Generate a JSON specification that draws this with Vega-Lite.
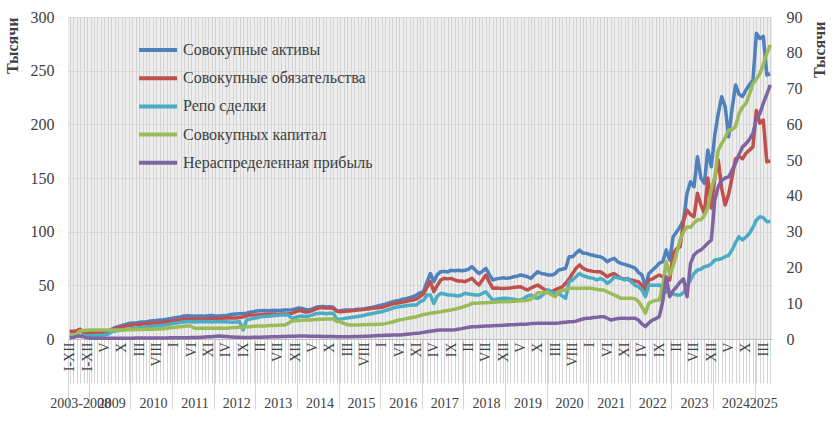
{
  "$schema": "https://vega.github.io/schema/vega-lite/v6.json",
  "width": 704,
  "height": 322,
  "autosize": "none",
  "padding": {"left": 68, "top": 17, "right": 67, "bottom": 96},
  "background": "white",
  "config": {
    "font": "Liberation Serif",
    "view": {"stroke": null, "fill": "#EDEDED"},
    "axis": {"labelFont": "Liberation Serif", "titleFont": "Liberation Serif", "labelColor": "#404040", "titleColor": "#404040"}
  },
  "data": {"values": [
    {"p":"2003","a":7,"l":7,"r":3,"c":0.6,"e":0.3},
    {"p":"2004","a":7,"l":7,"r":3,"c":0.9,"e":0.45},
    {"p":"2005","a":7.5,"l":7.5,"r":3,"c":1.5,"e":0.75},
    {"p":"2006","a":9,"l":9,"r":3.2,"c":2.25,"e":0.84},
    {"p":"2007","a":6,"l":5.6,"r":3.2,"c":2.4,"e":0.6},
    {"p":"2008","a":5.8,"l":5.5,"r":3,"c":2.46,"e":0.36},
    {"p":"2009-01","a":6,"l":5.6,"r":3,"c":2.52,"e":0.24},
    {"p":"2009-02","a":6,"l":5.6,"r":3.2,"c":2.52,"e":0.2},
    {"p":"2009-03","a":6.2,"l":5.8,"r":3.5,"c":2.52,"e":0.18},
    {"p":"2009-04","a":6.3,"l":6,"r":3.6,"c":2.49,"e":0.18},
    {"p":"2009-05","a":6.5,"l":6.2,"r":3.7,"c":2.52,"e":0.18},
    {"p":"2009-06","a":7,"l":6.5,"r":4.5,"c":2.52,"e":0.2},
    {"p":"2009-07","a":9,"l":8,"r":6.5,"c":2.55,"e":0.2},
    {"p":"2009-08","a":10.5,"l":9.5,"r":7.5,"c":2.55,"e":0.21},
    {"p":"2009-09","a":11.5,"l":10.5,"r":8,"c":2.52,"e":0.21},
    {"p":"2009-10","a":12.5,"l":11.2,"r":8.4,"c":2.55,"e":0.22},
    {"p":"2009-11","a":13.2,"l":12,"r":8.8,"c":2.58,"e":0.22},
    {"p":"2009-12","a":14.5,"l":12.5,"r":9.2,"c":2.58,"e":0.24},
    {"p":"2010-01","a":14.8,"l":13,"r":9.6,"c":2.61,"e":0.24},
    {"p":"2010-02","a":15,"l":13.5,"r":10,"c":2.64,"e":0.25},
    {"p":"2010-03","a":15.5,"l":13.8,"r":10.4,"c":2.64,"e":0.25},
    {"p":"2010-04","a":15.8,"l":14,"r":10.8,"c":2.67,"e":0.26},
    {"p":"2010-05","a":16,"l":14.3,"r":11.2,"c":2.7,"e":0.27},
    {"p":"2010-06","a":16.5,"l":14.6,"r":11.5,"c":2.7,"e":0.27},
    {"p":"2010-07","a":17,"l":15,"r":11.8,"c":2.73,"e":0.28},
    {"p":"2010-08","a":17.3,"l":15.2,"r":12,"c":2.76,"e":0.28},
    {"p":"2010-09","a":17.7,"l":15,"r":12.2,"c":2.79,"e":0.3},
    {"p":"2010-10","a":18,"l":15.5,"r":12.8,"c":2.88,"e":0.3},
    {"p":"2010-11","a":18.5,"l":16,"r":13.4,"c":3,"e":0.3},
    {"p":"2010-12","a":19,"l":16.5,"r":14,"c":3.12,"e":0.32},
    {"p":"2011-01","a":19.5,"l":17,"r":14.6,"c":3.24,"e":0.33},
    {"p":"2011-02","a":20,"l":17.5,"r":15,"c":3.36,"e":0.33},
    {"p":"2011-03","a":20.5,"l":18,"r":15.5,"c":3.45,"e":0.35},
    {"p":"2011-04","a":21.5,"l":18.6,"r":15.8,"c":3.54,"e":0.36},
    {"p":"2011-05","a":21.7,"l":18.6,"r":16,"c":3.6,"e":0.38},
    {"p":"2011-06","a":21.5,"l":18.5,"r":16,"c":3.6,"e":0.4},
    {"p":"2011-07","a":21.3,"l":18.4,"r":15.8,"c":3,"e":0.42},
    {"p":"2011-08","a":21.4,"l":18.6,"r":16,"c":3,"e":0.45},
    {"p":"2011-09","a":21.5,"l":18.7,"r":16.2,"c":3.03,"e":0.5},
    {"p":"2011-10","a":21.2,"l":18.5,"r":16,"c":3,"e":0.55},
    {"p":"2011-11","a":21.6,"l":18.8,"r":16,"c":3.06,"e":0.6},
    {"p":"2011-12","a":21.8,"l":19,"r":15.8,"c":3.03,"e":0.66},
    {"p":"2012-01","a":21.5,"l":19,"r":16,"c":3,"e":0.75},
    {"p":"2012-02","a":21.4,"l":19.2,"r":16.2,"c":3.06,"e":0.84},
    {"p":"2012-03","a":21.6,"l":19.4,"r":16,"c":3.03,"e":0.8},
    {"p":"2012-04","a":21.8,"l":19.6,"r":16,"c":3,"e":0.7},
    {"p":"2012-05","a":22.5,"l":19.8,"r":15.8,"c":3.09,"e":0.6},
    {"p":"2012-06","a":23,"l":19.6,"r":15.5,"c":3.18,"e":0.55},
    {"p":"2012-07","a":23.3,"l":19.6,"r":15.8,"c":3.24,"e":0.5},
    {"p":"2012-08","a":23.6,"l":20,"r":16,"c":3.3,"e":0.48},
    {"p":"2012-09","a":23.8,"l":20.5,"r":8.4,"c":3.36,"e":0.45},
    {"p":"2012-10","a":24,"l":21.5,"r":17.7,"c":3.42,"e":0.45},
    {"p":"2012-11","a":25,"l":22.4,"r":18.5,"c":3.45,"e":0.45},
    {"p":"2012-12","a":25.5,"l":22.4,"r":19.2,"c":3.54,"e":0.48},
    {"p":"2013-01","a":26,"l":22.4,"r":19.8,"c":3.6,"e":0.5},
    {"p":"2013-02","a":26.4,"l":22.6,"r":20.8,"c":3.6,"e":0.52},
    {"p":"2013-03","a":26.5,"l":22.8,"r":21,"c":3.66,"e":0.55},
    {"p":"2013-04","a":26.3,"l":23,"r":21.2,"c":3.69,"e":0.57},
    {"p":"2013-05","a":26.6,"l":23.2,"r":21.5,"c":3.75,"e":0.6},
    {"p":"2013-06","a":26.8,"l":23.3,"r":22,"c":3.78,"e":0.62},
    {"p":"2013-07","a":26.5,"l":23,"r":22.2,"c":3.84,"e":0.65},
    {"p":"2013-08","a":26.7,"l":23.2,"r":22.4,"c":3.9,"e":0.68},
    {"p":"2013-09","a":27,"l":23.3,"r":22.4,"c":3.9,"e":0.72},
    {"p":"2013-10","a":27,"l":23.3,"r":22.4,"c":4.35,"e":0.75},
    {"p":"2013-11","a":27.2,"l":24,"r":19.3,"c":5.04,"e":0.78},
    {"p":"2013-12","a":28,"l":25,"r":20,"c":5.1,"e":0.8},
    {"p":"2014-01","a":29,"l":26.5,"r":21,"c":5.16,"e":0.84},
    {"p":"2014-02","a":28.5,"l":26,"r":21.5,"c":5.25,"e":0.84},
    {"p":"2014-03","a":27.5,"l":25,"r":21,"c":5.28,"e":0.82},
    {"p":"2014-04","a":27,"l":25.5,"r":21.5,"c":5.34,"e":0.8},
    {"p":"2014-05","a":28,"l":26.5,"r":22.5,"c":5.4,"e":0.78},
    {"p":"2014-06","a":29.5,"l":28,"r":23.5,"c":5.46,"e":0.76},
    {"p":"2014-07","a":30,"l":29,"r":24,"c":5.52,"e":0.75},
    {"p":"2014-08","a":30.2,"l":29.2,"r":24,"c":5.55,"e":0.72},
    {"p":"2014-09","a":29.8,"l":28.8,"r":23.5,"c":5.58,"e":0.7},
    {"p":"2014-10","a":30,"l":29,"r":24,"c":5.58,"e":0.7},
    {"p":"2014-11","a":29.5,"l":28.5,"r":24,"c":5.58,"e":0.68},
    {"p":"2014-12","a":26,"l":26,"r":18.3,"c":4.95,"e":0.66},
    {"p":"2015-01","a":26.3,"l":25.4,"r":18.5,"c":4.8,"e":0.66},
    {"p":"2015-02","a":26.8,"l":25.6,"r":19,"c":4.35,"e":0.66},
    {"p":"2015-03","a":27,"l":26,"r":19.5,"c":4.05,"e":0.66},
    {"p":"2015-04","a":27,"l":26.2,"r":20,"c":3.9,"e":0.66},
    {"p":"2015-05","a":27.3,"l":26.5,"r":20.5,"c":3.9,"e":0.68},
    {"p":"2015-06","a":27.8,"l":27,"r":21,"c":3.93,"e":0.7},
    {"p":"2015-07","a":28,"l":27.2,"r":21.5,"c":3.96,"e":0.72},
    {"p":"2015-08","a":28.3,"l":27.6,"r":22.2,"c":3.99,"e":0.75},
    {"p":"2015-09","a":28.9,"l":28,"r":23,"c":4.02,"e":0.8},
    {"p":"2015-10","a":29.3,"l":28.5,"r":23.5,"c":4.05,"e":0.85},
    {"p":"2015-11","a":30,"l":28.8,"r":24.3,"c":4.08,"e":0.9},
    {"p":"2015-12","a":31,"l":29,"r":25,"c":4.11,"e":0.95},
    {"p":"2016-01","a":31.7,"l":29.5,"r":25.4,"c":4.11,"e":1},
    {"p":"2016-02","a":32.5,"l":30.5,"r":26.5,"c":4.29,"e":1.04},
    {"p":"2016-03","a":33.5,"l":31.5,"r":27.5,"c":4.5,"e":1.08},
    {"p":"2016-04","a":34.5,"l":32.5,"r":28.5,"c":4.74,"e":1.1},
    {"p":"2016-05","a":35.5,"l":33.2,"r":29.5,"c":5.04,"e":1.11},
    {"p":"2016-06","a":36,"l":33.8,"r":30,"c":5.31,"e":1.11},
    {"p":"2016-07","a":37,"l":34.5,"r":30.5,"c":5.49,"e":1.2},
    {"p":"2016-08","a":37.5,"l":35,"r":31,"c":5.7,"e":1.3},
    {"p":"2016-09","a":38.5,"l":35.8,"r":31.5,"c":5.88,"e":1.4},
    {"p":"2016-10","a":39.4,"l":36.3,"r":31.7,"c":6.06,"e":1.5},
    {"p":"2016-11","a":41,"l":37.5,"r":31.7,"c":6.24,"e":1.59},
    {"p":"2016-12","a":43,"l":39.4,"r":34.8,"c":6.54,"e":1.7},
    {"p":"2017-01","a":44,"l":42,"r":36,"c":6.84,"e":1.85},
    {"p":"2017-02","a":53,"l":48,"r":41,"c":6.99,"e":2},
    {"p":"2017-03","a":61,"l":53.4,"r":41,"c":7.2,"e":2.15},
    {"p":"2017-04","a":53.4,"l":44,"r":33,"c":7.35,"e":2.3},
    {"p":"2017-05","a":60,"l":50,"r":40,"c":7.5,"e":2.45},
    {"p":"2017-06","a":62.7,"l":55,"r":42.6,"c":7.62,"e":2.52},
    {"p":"2017-07","a":63,"l":56.5,"r":42,"c":7.8,"e":2.55},
    {"p":"2017-08","a":62.5,"l":56,"r":41,"c":7.95,"e":2.55},
    {"p":"2017-09","a":64,"l":56.5,"r":41,"c":8.1,"e":2.52},
    {"p":"2017-10","a":63.5,"l":55,"r":40.5,"c":8.34,"e":2.6},
    {"p":"2017-11","a":64,"l":54,"r":40,"c":8.58,"e":2.75},
    {"p":"2017-12","a":63.5,"l":54,"r":41,"c":8.85,"e":2.9},
    {"p":"2018-01","a":64,"l":53.4,"r":42.6,"c":9.15,"e":3.1},
    {"p":"2018-02","a":65,"l":55,"r":42,"c":9.45,"e":3.3},
    {"p":"2018-03","a":67.4,"l":56.5,"r":41.5,"c":9.96,"e":3.45},
    {"p":"2018-04","a":64,"l":53,"r":41,"c":10.02,"e":3.45},
    {"p":"2018-05","a":61,"l":50.3,"r":41,"c":10.05,"e":3.5},
    {"p":"2018-06","a":63,"l":55,"r":42.5,"c":10.11,"e":3.55},
    {"p":"2018-07","a":65.9,"l":59.6,"r":44,"c":10.14,"e":3.6},
    {"p":"2018-08","a":60,"l":53,"r":40,"c":10.2,"e":3.65},
    {"p":"2018-09","a":55,"l":47.2,"r":36.3,"c":10.26,"e":3.7},
    {"p":"2018-10","a":56,"l":47.5,"r":37,"c":10.32,"e":3.75},
    {"p":"2018-11","a":56.5,"l":47.2,"r":37.5,"c":10.38,"e":3.8},
    {"p":"2018-12","a":57,"l":47,"r":37.9,"c":10.41,"e":3.85},
    {"p":"2019-01","a":56.5,"l":47.2,"r":37.9,"c":10.44,"e":3.9},
    {"p":"2019-02","a":57,"l":47.5,"r":37.5,"c":10.5,"e":3.95},
    {"p":"2019-03","a":58,"l":48,"r":37,"c":10.56,"e":4},
    {"p":"2019-04","a":58.5,"l":48.5,"r":36.5,"c":10.62,"e":4.05},
    {"p":"2019-05","a":59.6,"l":48.7,"r":36.3,"c":10.68,"e":4.1},
    {"p":"2019-06","a":59,"l":47,"r":38,"c":10.74,"e":4.15},
    {"p":"2019-07","a":58,"l":45.7,"r":40,"c":10.86,"e":4.2},
    {"p":"2019-08","a":56.5,"l":47.5,"r":41,"c":11.1,"e":4.3},
    {"p":"2019-09","a":60,"l":49,"r":38.5,"c":12,"e":4.35},
    {"p":"2019-10","a":62.7,"l":50.3,"r":37.9,"c":12.96,"e":4.38},
    {"p":"2019-11","a":61,"l":48,"r":40,"c":12.96,"e":4.38},
    {"p":"2019-12","a":60.5,"l":46,"r":43,"c":12.99,"e":4.4},
    {"p":"2020-01","a":59.6,"l":45,"r":45.7,"c":12.96,"e":4.4},
    {"p":"2020-02","a":59.6,"l":44,"r":44,"c":12.3,"e":4.42},
    {"p":"2020-03","a":61,"l":46,"r":42.6,"c":11.82,"e":4.38},
    {"p":"2020-04","a":64.3,"l":47.2,"r":42.6,"c":13.2,"e":4.45},
    {"p":"2020-05","a":65,"l":48.5,"r":40,"c":13.5,"e":4.6},
    {"p":"2020-06","a":65.9,"l":51.9,"r":38,"c":13.8,"e":4.7},
    {"p":"2020-07","a":76.7,"l":56,"r":53.4,"c":14.16,"e":4.8},
    {"p":"2020-08","a":76.7,"l":61,"r":55,"c":14.16,"e":4.83},
    {"p":"2020-09","a":80,"l":66,"r":58,"c":14.1,"e":5},
    {"p":"2020-10","a":82.9,"l":69,"r":61,"c":14.16,"e":5.3},
    {"p":"2020-11","a":80,"l":66,"r":59,"c":14.19,"e":5.6},
    {"p":"2020-12","a":79.8,"l":64.3,"r":58,"c":14.16,"e":5.8},
    {"p":"2021-01","a":78.5,"l":63.5,"r":57,"c":14.16,"e":5.8},
    {"p":"2021-02","a":78,"l":63,"r":56.5,"c":14.04,"e":6},
    {"p":"2021-03","a":77,"l":62.7,"r":55,"c":13.89,"e":6.1},
    {"p":"2021-04","a":76.7,"l":62.7,"r":56.5,"c":13.71,"e":6.24},
    {"p":"2021-05","a":75,"l":60.5,"r":55,"c":13.71,"e":6.24},
    {"p":"2021-06","a":72,"l":58,"r":51.9,"c":13.2,"e":5.8},
    {"p":"2021-07","a":74,"l":60,"r":54,"c":12.75,"e":5.3},
    {"p":"2021-08","a":75.2,"l":61,"r":58,"c":12.3,"e":5.5},
    {"p":"2021-09","a":72,"l":58.5,"r":57,"c":11.85,"e":5.7},
    {"p":"2021-10","a":70.5,"l":56.5,"r":56.5,"c":11.37,"e":5.8},
    {"p":"2021-11","a":69.5,"l":56,"r":55,"c":11.37,"e":5.8},
    {"p":"2021-12","a":68.5,"l":55.5,"r":56.5,"c":11.4,"e":5.7},
    {"p":"2022-01","a":67.4,"l":55,"r":53,"c":11.37,"e":5.8},
    {"p":"2022-02","a":66,"l":54,"r":50,"c":11.25,"e":5.8},
    {"p":"2022-03","a":62,"l":53.4,"r":48.7,"c":10.5,"e":5.3},
    {"p":"2022-04","a":59.6,"l":50,"r":45.7,"c":9,"e":4.2},
    {"p":"2022-05","a":48.7,"l":45.7,"r":39.4,"c":7.2,"e":3.45},
    {"p":"2022-06","a":61,"l":55,"r":50.3,"c":9.96,"e":4.5},
    {"p":"2022-07","a":64,"l":56,"r":50,"c":10.5,"e":5.3},
    {"p":"2022-08","a":67,"l":58,"r":50,"c":10.8,"e":5.7},
    {"p":"2022-09","a":70.7,"l":59.6,"r":50.3,"c":10.89,"e":6.24},
    {"p":"2022-10","a":72,"l":58,"r":48,"c":15,"e":10.5},
    {"p":"2022-11","a":83,"l":56,"r":44,"c":21.6,"e":17.4},
    {"p":"2022-12","a":73.6,"l":55,"r":43,"c":18,"e":11.82},
    {"p":"2023-01","a":95.3,"l":79.8,"r":42,"c":20.4,"e":13.5},
    {"p":"2023-02","a":100,"l":84,"r":41,"c":24,"e":14.6},
    {"p":"2023-03","a":104.6,"l":86,"r":41,"c":27.6,"e":15.9},
    {"p":"2023-04","a":111,"l":110,"r":43,"c":30,"e":16.8},
    {"p":"2023-05","a":135.7,"l":120,"r":50,"c":31.38,"e":11.82},
    {"p":"2023-06","a":146.5,"l":116,"r":55,"c":31.2,"e":21.15},
    {"p":"2023-07","a":141.9,"l":114,"r":61,"c":32.4,"e":23.5},
    {"p":"2023-08","a":169.9,"l":135.7,"r":64.3,"c":33.3,"e":24.4},
    {"p":"2023-09","a":150,"l":125,"r":65,"c":33.3,"e":24.9},
    {"p":"2023-10","a":145,"l":117,"r":67.4,"c":34.5,"e":25.8},
    {"p":"2023-11","a":176,"l":150,"r":68,"c":36.9,"e":26.8},
    {"p":"2023-12","a":160.5,"l":122,"r":70,"c":42,"e":27.66},
    {"p":"2024-01","a":190,"l":150,"r":73.6,"c":45.3,"e":38.85},
    {"p":"2024-02","a":210,"l":166.8,"r":74,"c":52.8,"e":42.6},
    {"p":"2024-03","a":225.7,"l":140,"r":75,"c":54.6,"e":44.4},
    {"p":"2024-04","a":216.4,"l":124.8,"r":76.7,"c":56.4,"e":45},
    {"p":"2024-05","a":188.5,"l":135,"r":78,"c":58.41,"e":45.3},
    {"p":"2024-06","a":215,"l":151,"r":83,"c":58.5,"e":47.25},
    {"p":"2024-07","a":236.7,"l":168,"r":90,"c":59.4,"e":49.1},
    {"p":"2024-08","a":228,"l":170,"r":95.3,"c":63,"e":51.6},
    {"p":"2024-09","a":226,"l":168,"r":92.2,"c":64.8,"e":53.7},
    {"p":"2024-10","a":232,"l":173,"r":95,"c":65.88,"e":54.6},
    {"p":"2024-11","a":237,"l":176,"r":98.5,"c":68.4,"e":55.8},
    {"p":"2024-12","a":241,"l":179,"r":104,"c":71.4,"e":57.5},
    {"p":"2025-01","a":284.8,"l":213,"r":110.9,"c":72.6,"e":61.5},
    {"p":"2025-02","a":280,"l":201,"r":114,"c":74.25,"e":63},
    {"p":"2025-03","a":282,"l":204,"r":113,"c":76.8,"e":65.9},
    {"p":"2025-04","a":246,"l":165,"r":109.3,"c":79.8,"e":68.4},
    {"p":"2025-05","a":247,"l":166,"r":109.5,"c":82.2,"e":71}
  ]},
  "layer": [
    {
      "mark": {"type": "point", "opacity": 0},
      "encoding": {
        "x": {
          "field": "p", "type": "ordinal", "sort": null,
          "scale": {"type": "point", "padding": 0.5},
          "axis": {"orient": "bottom", "title": null, "labels": false, "domain": false, "grid": true, "gridColor": "#D4D4D4", "gridWidth": 1, "ticks": true, "tickSize": 44, "tickColor": "#D4D4D4"}
        }
      }
    },
    {
      "mark": {"type": "point", "opacity": 0},
      "encoding": {
        "x": {
          "field": "p", "type": "ordinal", "sort": null,
          "axis": {
            "orient": "bottom", "title": null, "labels": false, "domain": false, "grid": false,
            "ticks": true, "tickSize": 70, "tickColor": "#D4D4D4", "tickOffset": -1.73,
            "values": ["2003","2009-01","2010-01","2011-01","2012-01","2013-01","2014-01","2015-01","2016-01","2017-01","2018-01","2019-01","2020-01","2021-01","2022-01","2023-01","2024-01","2025-01"]
          }
        }
      }
    },
    {
      "mark": {"type": "point", "opacity": 0},
      "encoding": {
        "x": {
          "field": "p", "type": "ordinal", "sort": null,
          "axis": {
            "orient": "bottom", "title": null, "domain": false, "grid": false, "ticks": false,
            "labelAngle": 0, "labelPadding": 57, "labelDx": -1.73, "labelFontSize": 14, "labelOverlap": false,
            "labelExpr": "datum.value == '2006' ? '2003-2008' : substring(datum.value, 0, 4)",
            "values": ["2006","2009-07","2010-07","2011-07","2012-07","2013-07","2014-07","2015-07","2016-07","2017-07","2018-07","2019-07","2020-07","2021-07","2022-07","2023-07","2024-07","2025-03"]
          }
        }
      }
    },
    {
      "transform": [{"fold": ["a", "l", "r"], "as": ["s", "v"]}],
      "mark": {"type": "line", "strokeWidth": 3.5, "strokeJoin": "round"},
      "encoding": {
        "x": {
          "field": "p", "type": "ordinal", "sort": null,
          "axis": {
            "orient": "bottom", "title": null, "ticks": false, "grid": false, "domain": true, "domainColor": "#BFBFBF",
            "labelAngle": 270, "labelFontSize": 14, "labelPadding": 3, "labelOverlap": false,
            "labelExpr": "length(datum.value) == 4 ? (datum.value == '2003' || datum.value == '2008' ? 'I-XII' : '') : ((toNumber(substring(datum.value, 0, 4)) * 12 + toNumber(substring(datum.value, 5, 7)) - 24103) % 5 == 0 ? ['I','II','III','IV','V','VI','VII','VIII','IX','X','XI','XII'][toNumber(substring(datum.value, 5, 7)) - 1] : '')"
          }
        },
        "y": {
          "field": "v", "type": "quantitative",
          "scale": {"domain": [0, 300]},
          "axis": {
            "orient": "left", "values": [0, 50, 100, 150, 200, 250, 300],
            "grid": true, "gridColor": "#D9D9D9", "ticks": false, "domain": false,
            "labelFontSize": 16, "labelPadding": 14,
            "title": "Тысячи", "titleFontSize": 16, "titleFontWeight": "bold", "titleAnchor": "end", "titlePadding": 10
          }
        },
        "color": {
          "field": "s", "type": "nominal",
          "scale": {"domain": ["a", "l", "r", "c", "e"], "range": ["#4F81BD", "#C0504D", "#4BACC6", "#9BBB59", "#8064A2"]},
          "legend": {
            "title": null, "orient": "none", "legendX": 78.5, "legendY": 21.5, "padding": 0,
            "symbolType": "M-2,0H2", "symbolSize": 361, "symbolStrokeWidth": 4,
            "labelFont": "Liberation Serif", "labelFontSize": 16, "labelColor": "#404040", "labelOffset": 13.5, "labelLimit": 400, "rowPadding": 8.2,
            "labelExpr": "datum.label == 'a' ? 'Совокупные активы' : datum.label == 'l' ? 'Совокупные обязательства' : datum.label == 'r' ? 'Репо сделки' : datum.label == 'c' ? 'Совокупных капитал' : 'Нераспределенная прибыль'"
          }
        }
      }
    },
    {
      "transform": [{"fold": ["c", "e"], "as": ["s", "v"]}],
      "mark": {"type": "line", "strokeWidth": 3.5, "strokeJoin": "round"},
      "encoding": {
        "x": {"field": "p", "type": "ordinal", "sort": null, "axis": null},
        "y": {
          "field": "v", "type": "quantitative",
          "scale": {"domain": [0, 90]},
          "axis": {
            "orient": "right", "values": [0, 10, 20, 30, 40, 50, 60, 70, 80, 90],
            "grid": false, "ticks": false, "domain": false,
            "labelFontSize": 16, "labelPadding": 14,
            "title": "Тысячи", "titleFontSize": 16, "titleFontWeight": "bold", "titleAngle": 270,
            "titleX": 47, "titleY": 4, "titleAlign": "right", "titleBaseline": "middle"
          }
        },
        "color": {"field": "s", "type": "nominal"}
      }
    }
  ],
  "resolve": {"scale": {"y": "independent"}, "axis": {"x": "independent", "y": "independent"}}
}
